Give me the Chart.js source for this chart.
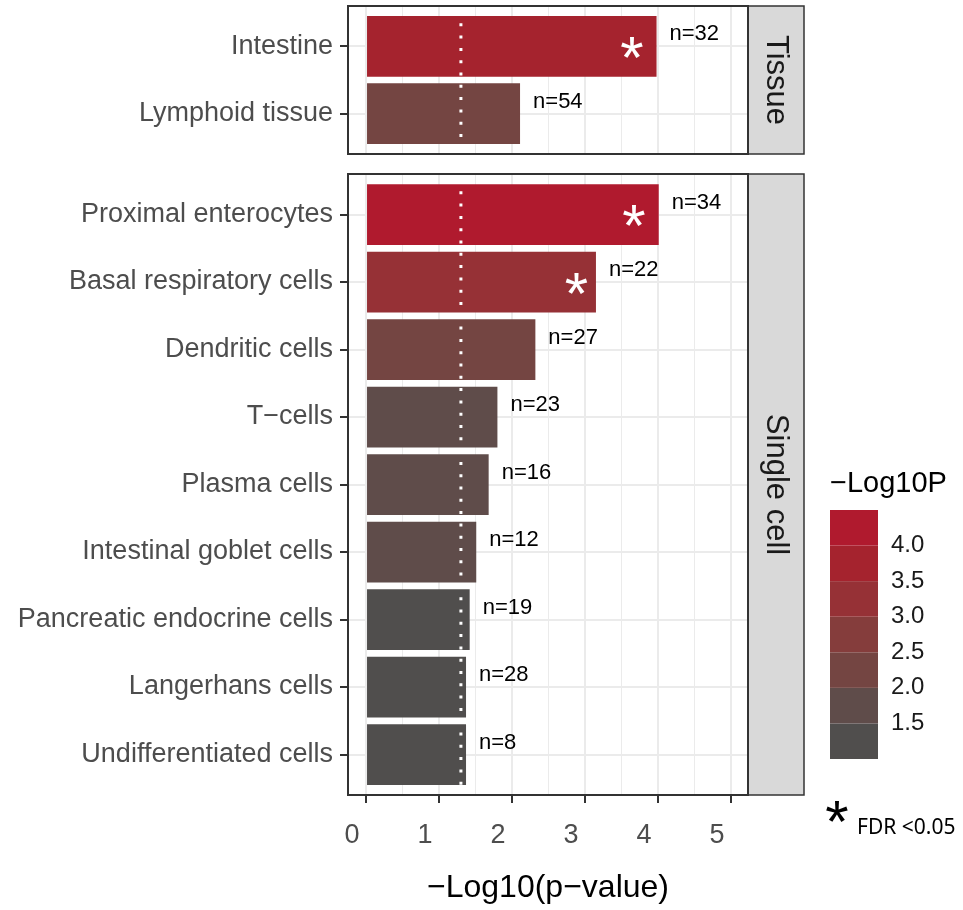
<!DOCTYPE html>
<html>
<head>
<meta charset="utf-8">
<script src="https://cdn.jsdelivr.net/npm/chart.js@4/dist/chart.umd.min.js"></script>
<style>
  html, body { margin: 0; padding: 0; background: #ffffff; }
  #wrap { position: relative; width: 963px; height: 910px; }
  canvas { position: absolute; left: 0; }
  #cTissue { top: 0; }
  #cCell { top: 160px; }
</style>
</head>
<body>
<div id="wrap">
  <canvas id="cTissue" width="963" height="160"></canvas>
  <canvas id="cCell" width="963" height="750"></canvas>
</div>
<script>
// ---- data ----
const tissueLabels = ['Intestine', 'Lymphoid tissue'];
const tissueValues = [3.98, 2.11];
const tissueCounts = [32, 54];
const tissueFdr    = [true, false];

const cellLabels = ['Proximal enterocytes', 'Basal respiratory cells', 'Dendritic cells',
  'T\u2212cells', 'Plasma cells', 'Intestinal goblet cells', 'Pancreatic endocrine cells',
  'Langerhans cells', 'Undifferentiated cells'];
const cellValues = [4.01, 3.15, 2.32, 1.80, 1.68, 1.51, 1.42, 1.37, 1.37];
const cellCounts = [34, 22, 27, 23, 16, 12, 19, 28, 8];
const cellFdr    = [true, true, false, false, false, false, false, false, false];

const xTickValues = [0, 0.5, 1, 1.5, 2, 2.5, 3, 3.5, 4, 4.5, 5];
const pThreshold = 1.3;          // -log10(0.05)

// binned fill scale for -Log10P
const binEdges  = [1.5, 2.0, 2.5, 3.0, 3.5, 4.0];
const binColors = ['#504E4D', '#5F4C4A', '#744542', '#853D3C', '#963136', '#A5232E', '#B01A2E'];
const legendTicks = [4.0, 3.5, 3.0, 2.5, 2.0, 1.5];

function binColor(v) {
  let i = 0;
  while (i < binEdges.length && v >= binEdges[i]) i++;
  return binColors[i];
}

Chart.defaults.font.family = '"Liberation Sans", Arial, sans-serif';

const FONT = '"Liberation Sans", Arial, sans-serif';
const CELL_TOP = 160;

function drawStar(ctx, cx, cy, color, size) {
  ctx.save();
  ctx.font = size + 'px ' + FONT;
  ctx.fillStyle = color;
  ctx.textAlign = 'center';
  ctx.textBaseline = 'alphabetic';
  const m = ctx.measureText('*');
  const asc = m.actualBoundingBoxAscent, desc = m.actualBoundingBoxDescent;
  ctx.fillText('*', cx, cy + (asc - desc) / 2);
  ctx.restore();
}

function panelDecor(values, counts, fdr, stripText, extra) {
  return {
    id: 'panelDecor',
    afterDatasetsDraw(chart) {
      const ctx = chart.ctx, a = chart.chartArea, x = chart.scales.x;
      // dotted significance line
      ctx.save();
      ctx.beginPath();
      ctx.rect(a.left, a.top, a.width, a.height);
      ctx.clip();
      const tx = x.getPixelForValue(pThreshold);
      ctx.strokeStyle = '#ffffff';
      ctx.lineWidth = 3;
      ctx.setLineDash([3, 9.3]);
      ctx.beginPath();
      ctx.moveTo(tx, a.top + 5);
      ctx.lineTo(tx, a.bottom);
      ctx.stroke();
      ctx.restore();
      // counts and FDR stars
      const meta = chart.getDatasetMeta(0);
      meta.data.forEach((bar, i) => {
        ctx.save();
        ctx.font = '22px ' + FONT;
        ctx.fillStyle = '#000000';
        ctx.textAlign = 'left';
        ctx.textBaseline = 'middle';
        ctx.fillText('n=' + counts[i], bar.x + 13, bar.y - 12);
        ctx.restore();
        if (fdr[i]) drawStar(ctx, x.getPixelForValue(values[i] * 0.915), bar.y + 1, '#ffffff', 60);
      });
    },
    afterDraw(chart) {
      const ctx = chart.ctx, a = chart.chartArea;
      // panel border
      ctx.save();
      ctx.strokeStyle = '#333333';
      ctx.lineWidth = 2;
      ctx.strokeRect(a.left, a.top, a.width, a.height);
      // facet strip
      const sx = a.right, sw = 56;
      ctx.fillStyle = '#D9D9D9';
      ctx.fillRect(sx, a.top, sw, a.height);
      ctx.lineWidth = 1.5;
      ctx.strokeRect(sx, a.top, sw, a.height);
      ctx.lineWidth = 2;
      ctx.beginPath();
      ctx.moveTo(a.right, a.top);
      ctx.lineTo(a.right, a.bottom);
      ctx.stroke();
      ctx.translate(sx + sw / 2, a.top + a.height / 2);
      ctx.rotate(Math.PI / 2);
      ctx.font = '31px ' + FONT;
      ctx.fillStyle = '#1A1A1A';
      ctx.textAlign = 'center';
      ctx.textBaseline = 'middle';
      ctx.fillText(stripText, 0, 0);
      ctx.restore();
      if (extra) extra(chart);
    }
  };
}

function drawLegend(chart) {
  const ctx = chart.ctx;
  const off = CELL_TOP;
  const barX = 830, barW = 48;
  const topY = 510 - off, botY = 759 - off;
  const vTop = 4.5, vBot = 1.0;
  const py = v => topY + (vTop - v) / (vTop - vBot) * (botY - topY);
  ctx.save();
  // title
  ctx.font = '29px ' + FONT;
  ctx.fillStyle = '#000000';
  ctx.textAlign = 'left';
  ctx.textBaseline = 'middle';
  ctx.fillText('\u2212Log10P', barX, 484 - off);
  // colour bins
  for (let i = 0; i < binColors.length; i++) {
    const lo = vBot + 0.5 * i, hi = lo + 0.5;
    ctx.fillStyle = binColors[i];
    ctx.fillRect(barX, py(hi), barW, py(lo) - py(hi));
  }
  // labels
  ctx.font = '24px ' + FONT;
  ctx.fillStyle = '#1A1A1A';
  legendTicks.forEach(v => ctx.fillText(v.toFixed(1), 891, py(v)));
  // FDR note
  drawStar(ctx, 837, 811 - off, '#000000', 60);
  ctx.font = '21px "Noto Sans", sans-serif';
  ctx.fillStyle = '#000000';
  ctx.fillText('FDR <0.05', 857, 828 - off);
  ctx.restore();
}

function makePanel(canvasId, labels, values, counts, fdr, stripText, cfg) {
  return new Chart(document.getElementById(canvasId), {
    type: 'bar',
    data: {
      datasets: [{
        data: values.map((v, i) => ({ x: v, y: i + 1 })),
        backgroundColor: values.map(binColor),
        borderWidth: 0,
        categoryPercentage: 1,
        barPercentage: 0.9
      }]
    },
    options: {
      indexAxis: 'y',
      responsive: false,
      animation: false,
      devicePixelRatio: 1,
      layout: { autoPadding: false, padding: { top: cfg.padTop, bottom: cfg.padBottom, left: 0, right: 215 } },
      plugins: { legend: { display: false }, tooltip: { enabled: false } },
      scales: {
        x: {
          type: 'linear',
          min: -0.247,
          max: 5.233,
          offset: false,
          afterBuildTicks: s => { s.ticks = xTickValues.map(v => ({ value: v })); },
          afterFit: s => { s.height = cfg.xHeight; s.paddingLeft = 0; s.paddingRight = 0; },
          border: { display: false },
          grid: {
            offset: false,
            color: '#EBEBEB',
            lineWidth: c => (Number.isInteger(c.tick.value) ? 2 : 1),
            drawTicks: cfg.showX,
            tickLength: 8,
            tickWidth: 2,
            tickColor: c => (Number.isInteger(c.tick.value) ? '#333333' : 'rgba(0,0,0,0)')
          },
          ticks: {
            display: cfg.showX,
            autoSkip: false,
            maxRotation: 0,
            callback: v => (Number.isInteger(v) ? String(v) : ''),
            font: { size: 27 },
            color: '#4D4D4D',
            labelOffset: -14,
            padding: 16
          },
          title: {
            display: cfg.showX,
            text: '\u2212Log10(p\u2212value)',
            font: { size: 32 },
            color: '#000000',
            padding: { top: 0, bottom: 3 }
          }
        },
        y: {
          type: 'linear',
          reverse: true,
          offset: false,
          min: 0.4,
          max: labels.length + 0.6,
          afterBuildTicks: s => { s.ticks = labels.map((_, i) => ({ value: i + 1 })); },
          afterFit: s => { s.width = 348; s.paddingTop = 0; s.paddingBottom = 0; },
          border: { display: false },
          grid: { offset: false, color: '#EBEBEB', lineWidth: 2, tickLength: 8, tickWidth: 2, tickColor: '#333333' },
          ticks: {
            autoSkip: false,
            callback: v => labels[v - 1],
            font: { size: 27 },
            color: '#4D4D4D',
            padding: 7
          }
        }
      }
    },
    plugins: [panelDecor(values, counts, fdr, stripText, cfg.extra)]
  });
}

makePanel('cTissue', tissueLabels, tissueValues, tissueCounts, tissueFdr, 'Tissue',
  { padTop: 6, padBottom: 6, xHeight: 0, showX: false });
makePanel('cCell', cellLabels, cellValues, cellCounts, cellFdr, 'Single cell',
  { padTop: 14, padBottom: 0, xHeight: 115, showX: true, extra: drawLegend });
</script>
</body>
</html>
